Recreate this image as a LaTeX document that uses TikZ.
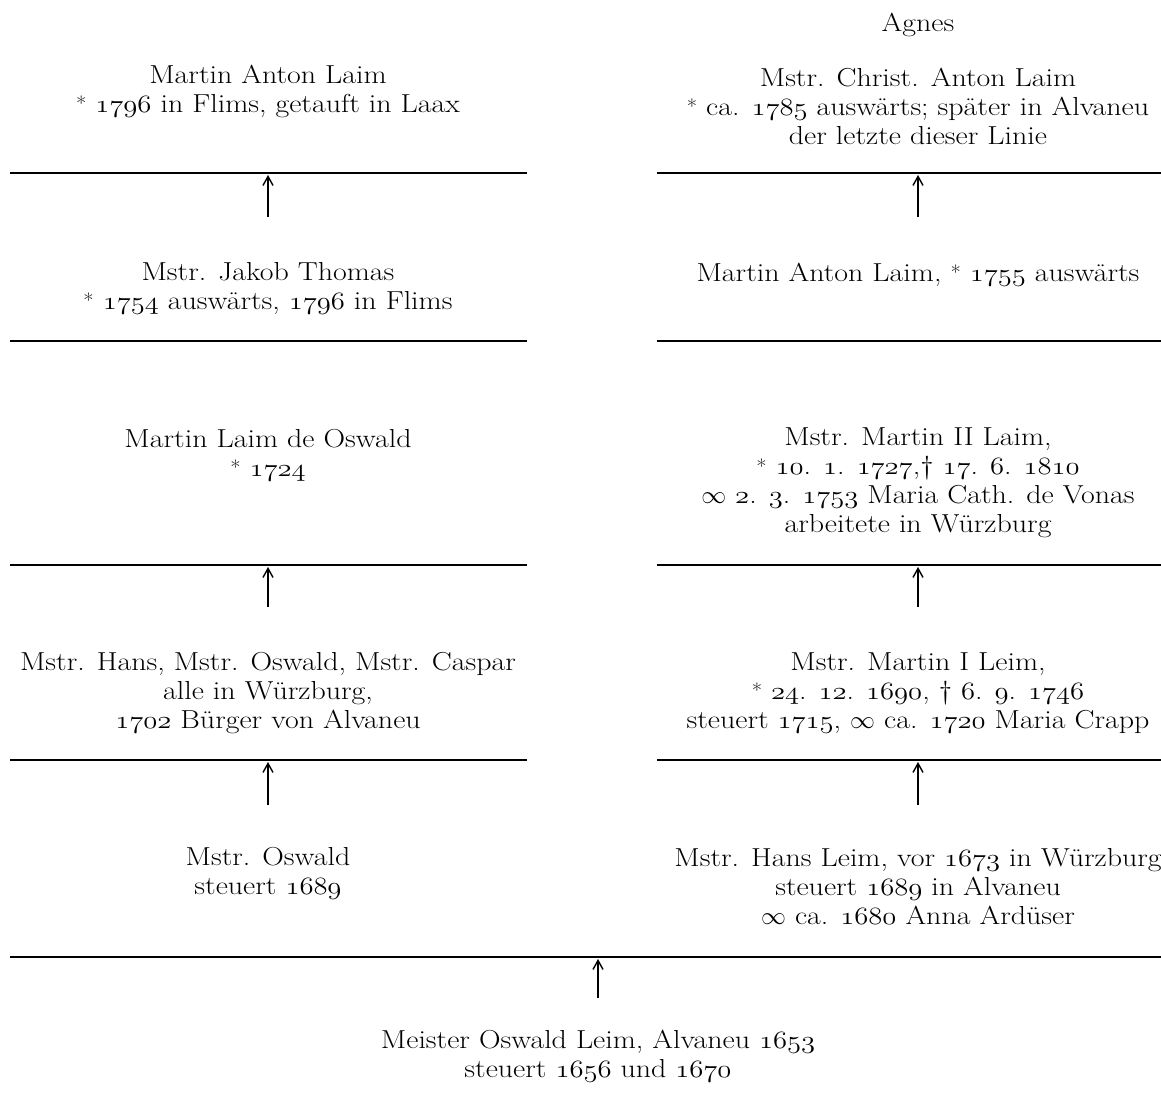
\documentclass[tikz,border=0pt]{standalone}
\usepackage{fontspec}
\usepackage{graphicx}
\setmainfont{Latin Modern Roman}[FakeStretch=1.15]
\usetikzlibrary{arrows.meta}
\newcommand{\on}[1]{\scalebox{1.15}[1]{\usefont{OML}{cmm}{m}{it}#1}}
\newcommand{\bornmark}{\raisebox{0.15ex}{\scalebox{0.75}{*}}}
\tikzset{
  person/.style={align=center, font=\fontsize{26}{29}\selectfont, inner sep=0pt},
  rulebar/.style={line width=1.4pt},
  uparrow/.style={line width=1.4pt, -{Straight Barb[length=9pt,width=10pt,line width=1.4pt]}},
}
\begin{document}
\begin{tikzpicture}[x=1pt,y=-1pt]
\useasboundingbox (0,0) rectangle (1161,1099);
% people
\node[person] (agnes) at (918,25) {Agnes};
\node[person] (L1) at (268,91) {Martin Anton Laim\\\bornmark{} \on{1796} in Flims, getauft in Laax};
\node[person] (R1) at (918,106) {Mstr. Christ. Anton Laim\\\bornmark{} ca. \on{1785} auswärts; später in Alvaneu\\der letzte dieser Linie};
\node[person] (L2) at (268,288) {Mstr. Jakob Thomas\\\bornmark{} \on{1754} auswärts, \on{1796} in Flims};
\node[person] (R2) at (918,275) {Martin Anton Laim, \bornmark{} \on{1755} auswärts};
\node[person] (L3) at (268,455) {Martin Laim de Oswald\\\bornmark{} \on{1724}};
\node[person] (R3) at (918,483) {Mstr. Martin II Laim,\\\bornmark{} \on{10}. \on{1}. \on{1727},\textdagger{} \on{17}. \on{6}. \on{1810}\\$\infty$ \on{2}. \on{3}. \on{1753} Maria Cath. de Vonas\\arbeitete in Würzburg};
\node[person] (L4) at (268,693) {Mstr. Hans, Mstr. Oswald, Mstr. Caspar\\alle in Würzburg,\\\on{1702} Bürger von Alvaneu};
\node[person] (R4) at (918,693) {Mstr. Martin I Leim,\\\bornmark{} \on{24}. \on{12}. \on{1690}, \textdagger{} \on{6}. \on{9}. \on{1746}\\steuert \on{1715}, $\infty$ ca. \on{1720} Maria Crapp};
\node[person] (L5) at (268,873) {Mstr. Oswald\\steuert \on{1689}};
\node[person] (R5) at (918,887) {Mstr. Hans Leim, vor \on{1673} in Würzburg\\steuert \on{1689} in Alvaneu\\$\infty$ ca. \on{1680} Anna Ardüser};
\node[person] (B) at (598,1056) {Meister Oswald Leim, Alvaneu \on{1653}\\steuert \on{1656} und \on{1670}};
% rules
\foreach \yy in {173,341,565,760}{
  \draw[rulebar] (10,\yy) -- (527,\yy);
  \draw[rulebar] (657,\yy) -- (1161,\yy);
}
\draw[rulebar] (10,957) -- (1161,957);
% arrows
\coordinate (aL1b) at (268,217); \coordinate (aL1t) at (268,175);
\coordinate (aR1b) at (918,217); \coordinate (aR1t) at (918,175);
\coordinate (aL3b) at (268,607); \coordinate (aL3t) at (268,567);
\coordinate (aR3b) at (918,607); \coordinate (aR3t) at (918,567);
\coordinate (aL4b) at (268,805); \coordinate (aL4t) at (268,762);
\coordinate (aR4b) at (918,805); \coordinate (aR4t) at (918,762);
\coordinate (aBb) at (598,998); \coordinate (aBt) at (598,959);
\draw[uparrow] (aL1b) -- (aL1t);
\draw[uparrow] (aR1b) -- (aR1t);
\draw[uparrow] (aL3b) -- (aL3t);
\draw[uparrow] (aR3b) -- (aR3t);
\draw[uparrow] (aL4b) -- (aL4t);
\draw[uparrow] (aR4b) -- (aR4t);
\draw[uparrow] (aBb) -- (aBt);
\end{tikzpicture}
\end{document}
